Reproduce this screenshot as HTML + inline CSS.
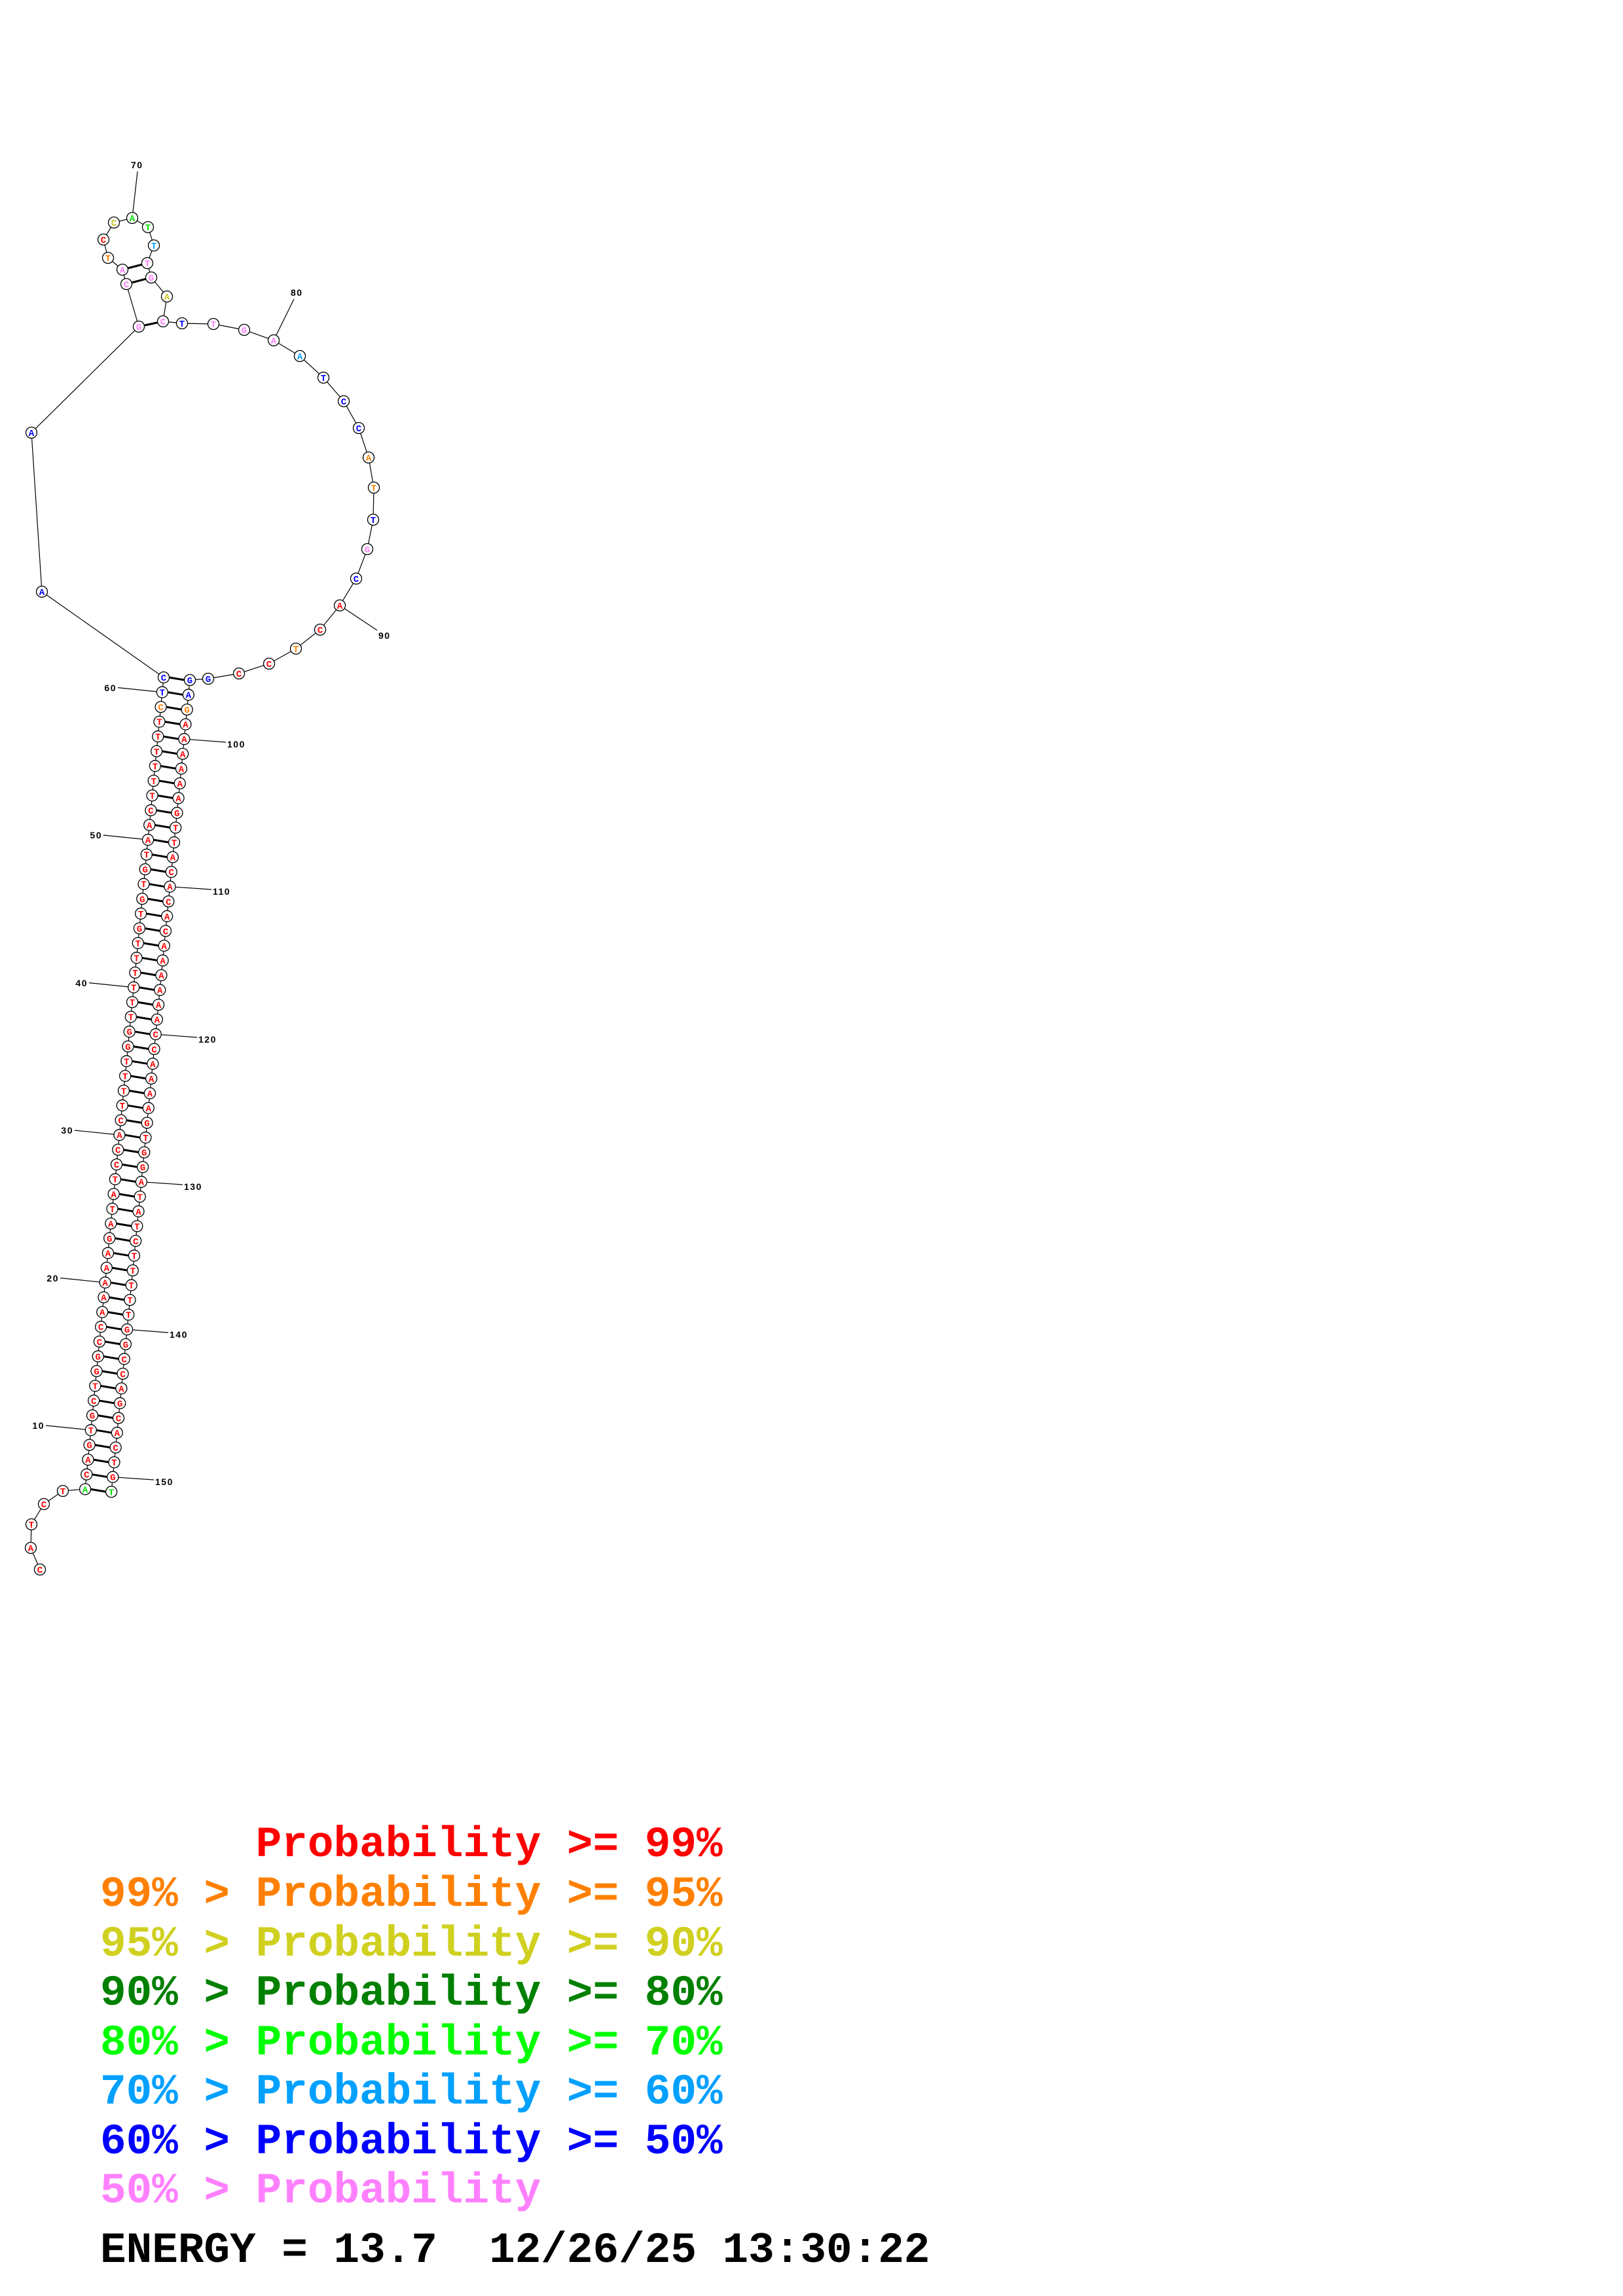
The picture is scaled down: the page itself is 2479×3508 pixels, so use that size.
<!DOCTYPE html>
<html><head><meta charset="utf-8"><style>
html,body{margin:0;padding:0;background:#fff;}
svg{display:block}
circle{fill:#fff;stroke:#000;stroke-width:1.3}
.n{font-family:"Liberation Mono",monospace;font-weight:bold;font-size:14px;text-anchor:middle}
.r{fill:#ff0000}.o{fill:#ff8000}.y{fill:#c8c820}.g{fill:#00e000}.c{fill:#00a0ff}.b{fill:#0000ff}.p{fill:#ff80ff}
.bd{stroke:#000;stroke-width:3}
.bb{stroke:#000;stroke-width:1.2;fill:none}
.lb{font-family:"Liberation Sans",sans-serif;font-weight:bold;font-size:14px;letter-spacing:1.5px;fill:#000}
.lg{font-family:"Liberation Mono",monospace;font-weight:bold;font-size:66px;white-space:pre}
</style></head><body>
<svg width="2479" height="3508" viewBox="0 0 2479 3508" xmlns="http://www.w3.org/2000/svg">
<line class="bb" x1="250" y1="1035" x2="130.1" y2="2275.25"/>
<line class="bb" x1="290" y1="1039" x2="170.1" y2="2279.25"/>
<polyline class="bb" points="130,2275 96,2278 67,2298 48,2329 47,2365 61,2398"/>
<polyline class="bb" points="250,1035 64,904 48,661 212,499 193,434 187,412 165,394 158,366 174,340 202,333 226,347 235,375 225,402 231,424 255,453 249,491 278,494 326,495 373,504 418,520 458,544 494,577 525,613 548,654 563,699 571,745 570,794 561,839 544,884 519,925 489,962 452,991 411,1014 365,1029 318,1037 290,1039"/>
<line class="bd" x1="212" y1="499" x2="249" y2="491"/>
<line class="bd" x1="193" y1="434" x2="231" y2="424"/>
<line class="bd" x1="187" y1="412" x2="225" y2="402"/>
<g class="bb">
<line x1="202" y1="333" x2="210" y2="262"/>
<line x1="418" y1="520" x2="449" y2="457"/>
<line x1="519" y1="925" x2="576" y2="963"/>
<line x1="247.8" y1="1057.6" x2="180" y2="1050.6"/>
<line x1="226" y1="1283" x2="158" y2="1276"/>
<line x1="204.2" y1="1508.6" x2="136" y2="1501.6"/>
<line x1="182.4" y1="1734" x2="114" y2="1727"/>
<line x1="160.6" y1="1959.6" x2="92" y2="1952.6"/>
<line x1="138.8" y1="2185" x2="70" y2="2178"/>
<line x1="281.3" y1="1129.2" x2="345" y2="1134"/>
<line x1="259.5" y1="1354.7" x2="323" y2="1359"/>
<line x1="237.7" y1="1580.2" x2="301" y2="1585"/>
<line x1="215.9" y1="1805.7" x2="279" y2="1810"/>
<line x1="194.1" y1="2031.2" x2="257" y2="2036"/>
<line x1="172.3" y1="2256.7" x2="235" y2="2261"/>
</g>
<text class="lb" x="200" y="257">70</text>
<text class="lb" x="444" y="452">80</text>
<text class="lb" x="578" y="976">90</text>
<g class="lb" text-anchor="end">
<text x="178" y="1056" text-anchor="end">60</text>
<text x="156" y="1281" text-anchor="end">50</text>
<text x="134" y="1507" text-anchor="end">40</text>
<text x="112" y="1732" text-anchor="end">30</text>
<text x="90" y="1958" text-anchor="end">20</text>
<text x="68" y="2183" text-anchor="end">10</text>
</g>
<text class="lb" x="347" y="1142">100</text>
<text class="lb" x="325" y="1367">110</text>
<text class="lb" x="303" y="1593">120</text>
<text class="lb" x="281" y="1818">130</text>
<text class="lb" x="259" y="2044">140</text>
<text class="lb" x="237" y="2269">150</text>

<g>
<circle cx="64" cy="904" r="8.5"/><text class="n b" x="64" y="909">A</text>
<circle cx="48" cy="661" r="8.5"/><text class="n b" x="48" y="666">A</text>
<circle cx="212" cy="499" r="8.5"/><text class="n p" x="212" y="504">G</text>
<circle cx="193" cy="434" r="8.5"/><text class="n p" x="193" y="439">C</text>
<circle cx="187" cy="412" r="8.5"/><text class="n p" x="187" y="417">A</text>
<circle cx="165" cy="394" r="8.5"/><text class="n o" x="165" y="399">T</text>
<circle cx="158" cy="366" r="8.5"/><text class="n r" x="158" y="371">C</text>
<circle cx="174" cy="340" r="8.5"/><text class="n y" x="174" y="345">C</text>
<circle cx="202" cy="333" r="8.5"/><text class="n g" x="202" y="338">A</text>
<circle cx="226" cy="347" r="8.5"/><text class="n g" x="226" y="352">T</text>
<circle cx="235" cy="375" r="8.5"/><text class="n c" x="235" y="380">T</text>
<circle cx="225" cy="402" r="8.5"/><text class="n p" x="225" y="407">T</text>
<circle cx="231" cy="424" r="8.5"/><text class="n p" x="231" y="429">G</text>
<circle cx="255" cy="453" r="8.5"/><text class="n y" x="255" y="458">A</text>
<circle cx="249" cy="491" r="8.5"/><text class="n p" x="249" y="496">C</text>
<circle cx="278" cy="494" r="8.5"/><text class="n b" x="278" y="499">T</text>
<circle cx="326" cy="495" r="8.5"/><text class="n p" x="326" y="500">T</text>
<circle cx="373" cy="504" r="8.5"/><text class="n p" x="373" y="509">G</text>
<circle cx="418" cy="520" r="8.5"/><text class="n p" x="418" y="525">A</text>
<circle cx="458" cy="544" r="8.5"/><text class="n c" x="458" y="549">A</text>
<circle cx="494" cy="577" r="8.5"/><text class="n b" x="494" y="582">T</text>
<circle cx="525" cy="613" r="8.5"/><text class="n b" x="525" y="618">C</text>
<circle cx="548" cy="654" r="8.5"/><text class="n b" x="548" y="659">C</text>
<circle cx="563" cy="699" r="8.5"/><text class="n o" x="563" y="704">A</text>
<circle cx="571" cy="745" r="8.5"/><text class="n o" x="571" y="750">T</text>
<circle cx="570" cy="794" r="8.5"/><text class="n b" x="570" y="799">T</text>
<circle cx="561" cy="839" r="8.5"/><text class="n p" x="561" y="844">G</text>
<circle cx="544" cy="884" r="8.5"/><text class="n b" x="544" y="889">C</text>
<circle cx="519" cy="925" r="8.5"/><text class="n r" x="519" y="930">A</text>
<circle cx="489" cy="962" r="8.5"/><text class="n r" x="489" y="967">C</text>
<circle cx="452" cy="991" r="8.5"/><text class="n o" x="452" y="996">T</text>
<circle cx="411" cy="1014" r="8.5"/><text class="n r" x="411" y="1019">C</text>
<circle cx="365" cy="1029" r="8.5"/><text class="n r" x="365" y="1034">C</text>
<circle cx="318" cy="1037" r="8.5"/><text class="n b" x="318" y="1042">G</text>
</g>
<circle cx="96" cy="2278" r="8.5"/><text class="n r" x="96" y="2283">T</text>
<circle cx="67" cy="2298" r="8.5"/><text class="n r" x="67" y="2303">C</text>
<circle cx="48" cy="2329" r="8.5"/><text class="n r" x="48" y="2334">T</text>
<circle cx="47" cy="2365" r="8.5"/><text class="n r" x="47" y="2370">A</text>
<circle cx="61" cy="2398" r="8.5"/><text class="n r" x="61" y="2403">C</text>

<g transform="translate(0,0)"><line class="bd" x1="258" y1="1035" x2="282" y2="1039"/><circle cx="250" cy="1035" r="8.5"/><circle cx="290" cy="1039" r="8.5"/><text class="n b" x="250" y="1040">C</text><text class="n b" x="290" y="1044">G</text></g>
<g transform="translate(-2.18,22.55)"><line class="bd" x1="258" y1="1035" x2="282" y2="1039"/><circle cx="250" cy="1035" r="8.5"/><circle cx="290" cy="1039" r="8.5"/><text class="n b" x="250" y="1040">T</text><text class="n b" x="290" y="1044">A</text></g>
<g transform="translate(-4.36,45.1)"><line class="bd" x1="258" y1="1035" x2="282" y2="1039"/><circle cx="250" cy="1035" r="8.5"/><circle cx="290" cy="1039" r="8.5"/><text class="n o" x="250" y="1040">C</text><text class="n o" x="290" y="1044">G</text></g>
<g transform="translate(-6.54,67.65)"><line class="bd" x1="258" y1="1035" x2="282" y2="1039"/><circle cx="250" cy="1035" r="8.5"/><circle cx="290" cy="1039" r="8.5"/><text class="n r" x="250" y="1040">T</text><text class="n r" x="290" y="1044">A</text></g>
<g transform="translate(-8.72,90.2)"><line class="bd" x1="258" y1="1035" x2="282" y2="1039"/><circle cx="250" cy="1035" r="8.5"/><circle cx="290" cy="1039" r="8.5"/><text class="n r" x="250" y="1040">T</text><text class="n r" x="290" y="1044">A</text></g>
<g transform="translate(-10.9,112.75)"><line class="bd" x1="258" y1="1035" x2="282" y2="1039"/><circle cx="250" cy="1035" r="8.5"/><circle cx="290" cy="1039" r="8.5"/><text class="n r" x="250" y="1040">T</text><text class="n r" x="290" y="1044">A</text></g>
<g transform="translate(-13.08,135.3)"><line class="bd" x1="258" y1="1035" x2="282" y2="1039"/><circle cx="250" cy="1035" r="8.5"/><circle cx="290" cy="1039" r="8.5"/><text class="n r" x="250" y="1040">T</text><text class="n r" x="290" y="1044">A</text></g>
<g transform="translate(-15.26,157.85)"><line class="bd" x1="258" y1="1035" x2="282" y2="1039"/><circle cx="250" cy="1035" r="8.5"/><circle cx="290" cy="1039" r="8.5"/><text class="n r" x="250" y="1040">T</text><text class="n r" x="290" y="1044">A</text></g>
<g transform="translate(-17.44,180.4)"><line class="bd" x1="258" y1="1035" x2="282" y2="1039"/><circle cx="250" cy="1035" r="8.5"/><circle cx="290" cy="1039" r="8.5"/><text class="n r" x="250" y="1040">T</text><text class="n r" x="290" y="1044">A</text></g>
<g transform="translate(-19.62,202.95)"><line class="bd" x1="258" y1="1035" x2="282" y2="1039"/><circle cx="250" cy="1035" r="8.5"/><circle cx="290" cy="1039" r="8.5"/><text class="n r" x="250" y="1040">C</text><text class="n r" x="290" y="1044">G</text></g>
<g transform="translate(-21.8,225.5)"><line class="bd" x1="258" y1="1035" x2="282" y2="1039"/><circle cx="250" cy="1035" r="8.5"/><circle cx="290" cy="1039" r="8.5"/><text class="n r" x="250" y="1040">A</text><text class="n r" x="290" y="1044">T</text></g>
<g transform="translate(-23.98,248.05)"><line class="bd" x1="258" y1="1035" x2="282" y2="1039"/><circle cx="250" cy="1035" r="8.5"/><circle cx="290" cy="1039" r="8.5"/><text class="n r" x="250" y="1040">A</text><text class="n r" x="290" y="1044">T</text></g>
<g transform="translate(-26.16,270.6)"><line class="bd" x1="258" y1="1035" x2="282" y2="1039"/><circle cx="250" cy="1035" r="8.5"/><circle cx="290" cy="1039" r="8.5"/><text class="n r" x="250" y="1040">T</text><text class="n r" x="290" y="1044">A</text></g>
<g transform="translate(-28.34,293.15)"><line class="bd" x1="258" y1="1035" x2="282" y2="1039"/><circle cx="250" cy="1035" r="8.5"/><circle cx="290" cy="1039" r="8.5"/><text class="n r" x="250" y="1040">G</text><text class="n r" x="290" y="1044">C</text></g>
<g transform="translate(-30.52,315.7)"><line class="bd" x1="258" y1="1035" x2="282" y2="1039"/><circle cx="250" cy="1035" r="8.5"/><circle cx="290" cy="1039" r="8.5"/><text class="n r" x="250" y="1040">T</text><text class="n r" x="290" y="1044">A</text></g>
<g transform="translate(-32.7,338.25)"><line class="bd" x1="258" y1="1035" x2="282" y2="1039"/><circle cx="250" cy="1035" r="8.5"/><circle cx="290" cy="1039" r="8.5"/><text class="n r" x="250" y="1040">G</text><text class="n r" x="290" y="1044">C</text></g>
<g transform="translate(-34.88,360.8)"><line class="bd" x1="258" y1="1035" x2="282" y2="1039"/><circle cx="250" cy="1035" r="8.5"/><circle cx="290" cy="1039" r="8.5"/><text class="n r" x="250" y="1040">T</text><text class="n r" x="290" y="1044">A</text></g>
<g transform="translate(-37.06,383.35)"><line class="bd" x1="258" y1="1035" x2="282" y2="1039"/><circle cx="250" cy="1035" r="8.5"/><circle cx="290" cy="1039" r="8.5"/><text class="n r" x="250" y="1040">G</text><text class="n r" x="290" y="1044">C</text></g>
<g transform="translate(-39.24,405.9)"><line class="bd" x1="258" y1="1035" x2="282" y2="1039"/><circle cx="250" cy="1035" r="8.5"/><circle cx="290" cy="1039" r="8.5"/><text class="n r" x="250" y="1040">T</text><text class="n r" x="290" y="1044">A</text></g>
<g transform="translate(-41.42,428.45)"><line class="bd" x1="258" y1="1035" x2="282" y2="1039"/><circle cx="250" cy="1035" r="8.5"/><circle cx="290" cy="1039" r="8.5"/><text class="n r" x="250" y="1040">T</text><text class="n r" x="290" y="1044">A</text></g>
<g transform="translate(-43.6,451)"><line class="bd" x1="258" y1="1035" x2="282" y2="1039"/><circle cx="250" cy="1035" r="8.5"/><circle cx="290" cy="1039" r="8.5"/><text class="n r" x="250" y="1040">T</text><text class="n r" x="290" y="1044">A</text></g>
<g transform="translate(-45.78,473.55)"><line class="bd" x1="258" y1="1035" x2="282" y2="1039"/><circle cx="250" cy="1035" r="8.5"/><circle cx="290" cy="1039" r="8.5"/><text class="n r" x="250" y="1040">T</text><text class="n r" x="290" y="1044">A</text></g>
<g transform="translate(-47.96,496.1)"><line class="bd" x1="258" y1="1035" x2="282" y2="1039"/><circle cx="250" cy="1035" r="8.5"/><circle cx="290" cy="1039" r="8.5"/><text class="n r" x="250" y="1040">T</text><text class="n r" x="290" y="1044">A</text></g>
<g transform="translate(-50.14,518.65)"><line class="bd" x1="258" y1="1035" x2="282" y2="1039"/><circle cx="250" cy="1035" r="8.5"/><circle cx="290" cy="1039" r="8.5"/><text class="n r" x="250" y="1040">T</text><text class="n r" x="290" y="1044">A</text></g>
<g transform="translate(-52.32,541.2)"><line class="bd" x1="258" y1="1035" x2="282" y2="1039"/><circle cx="250" cy="1035" r="8.5"/><circle cx="290" cy="1039" r="8.5"/><text class="n r" x="250" y="1040">G</text><text class="n r" x="290" y="1044">C</text></g>
<g transform="translate(-54.5,563.75)"><line class="bd" x1="258" y1="1035" x2="282" y2="1039"/><circle cx="250" cy="1035" r="8.5"/><circle cx="290" cy="1039" r="8.5"/><text class="n r" x="250" y="1040">G</text><text class="n r" x="290" y="1044">C</text></g>
<g transform="translate(-56.68,586.3)"><line class="bd" x1="258" y1="1035" x2="282" y2="1039"/><circle cx="250" cy="1035" r="8.5"/><circle cx="290" cy="1039" r="8.5"/><text class="n r" x="250" y="1040">T</text><text class="n r" x="290" y="1044">A</text></g>
<g transform="translate(-58.86,608.85)"><line class="bd" x1="258" y1="1035" x2="282" y2="1039"/><circle cx="250" cy="1035" r="8.5"/><circle cx="290" cy="1039" r="8.5"/><text class="n r" x="250" y="1040">T</text><text class="n r" x="290" y="1044">A</text></g>
<g transform="translate(-61.04,631.4)"><line class="bd" x1="258" y1="1035" x2="282" y2="1039"/><circle cx="250" cy="1035" r="8.5"/><circle cx="290" cy="1039" r="8.5"/><text class="n r" x="250" y="1040">T</text><text class="n r" x="290" y="1044">A</text></g>
<g transform="translate(-63.22,653.95)"><line class="bd" x1="258" y1="1035" x2="282" y2="1039"/><circle cx="250" cy="1035" r="8.5"/><circle cx="290" cy="1039" r="8.5"/><text class="n r" x="250" y="1040">T</text><text class="n r" x="290" y="1044">A</text></g>
<g transform="translate(-65.4,676.5)"><line class="bd" x1="258" y1="1035" x2="282" y2="1039"/><circle cx="250" cy="1035" r="8.5"/><circle cx="290" cy="1039" r="8.5"/><text class="n r" x="250" y="1040">C</text><text class="n r" x="290" y="1044">G</text></g>
<g transform="translate(-67.58,699.05)"><line class="bd" x1="258" y1="1035" x2="282" y2="1039"/><circle cx="250" cy="1035" r="8.5"/><circle cx="290" cy="1039" r="8.5"/><text class="n r" x="250" y="1040">A</text><text class="n r" x="290" y="1044">T</text></g>
<g transform="translate(-69.76,721.6)"><line class="bd" x1="258" y1="1035" x2="282" y2="1039"/><circle cx="250" cy="1035" r="8.5"/><circle cx="290" cy="1039" r="8.5"/><text class="n r" x="250" y="1040">C</text><text class="n r" x="290" y="1044">G</text></g>
<g transform="translate(-71.94,744.15)"><line class="bd" x1="258" y1="1035" x2="282" y2="1039"/><circle cx="250" cy="1035" r="8.5"/><circle cx="290" cy="1039" r="8.5"/><text class="n r" x="250" y="1040">C</text><text class="n r" x="290" y="1044">G</text></g>
<g transform="translate(-74.12,766.7)"><line class="bd" x1="258" y1="1035" x2="282" y2="1039"/><circle cx="250" cy="1035" r="8.5"/><circle cx="290" cy="1039" r="8.5"/><text class="n r" x="250" y="1040">T</text><text class="n r" x="290" y="1044">A</text></g>
<g transform="translate(-76.3,789.25)"><line class="bd" x1="258" y1="1035" x2="282" y2="1039"/><circle cx="250" cy="1035" r="8.5"/><circle cx="290" cy="1039" r="8.5"/><text class="n r" x="250" y="1040">A</text><text class="n r" x="290" y="1044">T</text></g>
<g transform="translate(-78.48,811.8)"><line class="bd" x1="258" y1="1035" x2="282" y2="1039"/><circle cx="250" cy="1035" r="8.5"/><circle cx="290" cy="1039" r="8.5"/><text class="n r" x="250" y="1040">T</text><text class="n r" x="290" y="1044">A</text></g>
<g transform="translate(-80.66,834.35)"><line class="bd" x1="258" y1="1035" x2="282" y2="1039"/><circle cx="250" cy="1035" r="8.5"/><circle cx="290" cy="1039" r="8.5"/><text class="n r" x="250" y="1040">A</text><text class="n r" x="290" y="1044">T</text></g>
<g transform="translate(-82.84,856.9)"><line class="bd" x1="258" y1="1035" x2="282" y2="1039"/><circle cx="250" cy="1035" r="8.5"/><circle cx="290" cy="1039" r="8.5"/><text class="n r" x="250" y="1040">G</text><text class="n r" x="290" y="1044">C</text></g>
<g transform="translate(-85.02,879.45)"><line class="bd" x1="258" y1="1035" x2="282" y2="1039"/><circle cx="250" cy="1035" r="8.5"/><circle cx="290" cy="1039" r="8.5"/><text class="n r" x="250" y="1040">A</text><text class="n r" x="290" y="1044">T</text></g>
<g transform="translate(-87.2,902)"><line class="bd" x1="258" y1="1035" x2="282" y2="1039"/><circle cx="250" cy="1035" r="8.5"/><circle cx="290" cy="1039" r="8.5"/><text class="n r" x="250" y="1040">A</text><text class="n r" x="290" y="1044">T</text></g>
<g transform="translate(-89.38,924.55)"><line class="bd" x1="258" y1="1035" x2="282" y2="1039"/><circle cx="250" cy="1035" r="8.5"/><circle cx="290" cy="1039" r="8.5"/><text class="n r" x="250" y="1040">A</text><text class="n r" x="290" y="1044">T</text></g>
<g transform="translate(-91.56,947.1)"><line class="bd" x1="258" y1="1035" x2="282" y2="1039"/><circle cx="250" cy="1035" r="8.5"/><circle cx="290" cy="1039" r="8.5"/><text class="n r" x="250" y="1040">A</text><text class="n r" x="290" y="1044">T</text></g>
<g transform="translate(-93.74,969.65)"><line class="bd" x1="258" y1="1035" x2="282" y2="1039"/><circle cx="250" cy="1035" r="8.5"/><circle cx="290" cy="1039" r="8.5"/><text class="n r" x="250" y="1040">A</text><text class="n r" x="290" y="1044">T</text></g>
<g transform="translate(-95.92,992.2)"><line class="bd" x1="258" y1="1035" x2="282" y2="1039"/><circle cx="250" cy="1035" r="8.5"/><circle cx="290" cy="1039" r="8.5"/><text class="n r" x="250" y="1040">C</text><text class="n r" x="290" y="1044">G</text></g>
<g transform="translate(-98.1,1014.75)"><line class="bd" x1="258" y1="1035" x2="282" y2="1039"/><circle cx="250" cy="1035" r="8.5"/><circle cx="290" cy="1039" r="8.5"/><text class="n r" x="250" y="1040">C</text><text class="n r" x="290" y="1044">G</text></g>
<g transform="translate(-100.28,1037.3)"><line class="bd" x1="258" y1="1035" x2="282" y2="1039"/><circle cx="250" cy="1035" r="8.5"/><circle cx="290" cy="1039" r="8.5"/><text class="n r" x="250" y="1040">G</text><text class="n r" x="290" y="1044">C</text></g>
<g transform="translate(-102.46,1059.85)"><line class="bd" x1="258" y1="1035" x2="282" y2="1039"/><circle cx="250" cy="1035" r="8.5"/><circle cx="290" cy="1039" r="8.5"/><text class="n r" x="250" y="1040">G</text><text class="n r" x="290" y="1044">C</text></g>
<g transform="translate(-104.64,1082.4)"><line class="bd" x1="258" y1="1035" x2="282" y2="1039"/><circle cx="250" cy="1035" r="8.5"/><circle cx="290" cy="1039" r="8.5"/><text class="n r" x="250" y="1040">T</text><text class="n r" x="290" y="1044">A</text></g>
<g transform="translate(-106.82,1104.95)"><line class="bd" x1="258" y1="1035" x2="282" y2="1039"/><circle cx="250" cy="1035" r="8.5"/><circle cx="290" cy="1039" r="8.5"/><text class="n r" x="250" y="1040">C</text><text class="n r" x="290" y="1044">G</text></g>
<g transform="translate(-109,1127.5)"><line class="bd" x1="258" y1="1035" x2="282" y2="1039"/><circle cx="250" cy="1035" r="8.5"/><circle cx="290" cy="1039" r="8.5"/><text class="n r" x="250" y="1040">G</text><text class="n r" x="290" y="1044">C</text></g>
<g transform="translate(-111.18,1150.05)"><line class="bd" x1="258" y1="1035" x2="282" y2="1039"/><circle cx="250" cy="1035" r="8.5"/><circle cx="290" cy="1039" r="8.5"/><text class="n r" x="250" y="1040">T</text><text class="n r" x="290" y="1044">A</text></g>
<g transform="translate(-113.36,1172.6)"><line class="bd" x1="258" y1="1035" x2="282" y2="1039"/><circle cx="250" cy="1035" r="8.5"/><circle cx="290" cy="1039" r="8.5"/><text class="n r" x="250" y="1040">G</text><text class="n r" x="290" y="1044">C</text></g>
<g transform="translate(-115.54,1195.15)"><line class="bd" x1="258" y1="1035" x2="282" y2="1039"/><circle cx="250" cy="1035" r="8.5"/><circle cx="290" cy="1039" r="8.5"/><text class="n r" x="250" y="1040">A</text><text class="n r" x="290" y="1044">T</text></g>
<g transform="translate(-117.72,1217.7)"><line class="bd" x1="258" y1="1035" x2="282" y2="1039"/><circle cx="250" cy="1035" r="8.5"/><circle cx="290" cy="1039" r="8.5"/><text class="n r" x="250" y="1040">C</text><text class="n r" x="290" y="1044">G</text></g>
<g transform="translate(-119.9,1240.25)"><line class="bd" x1="258" y1="1035" x2="282" y2="1039"/><circle cx="250" cy="1035" r="8.5"/><circle cx="290" cy="1039" r="8.5"/><text class="n g" x="250" y="1040">A</text><text class="n g" x="290" y="1044">T</text></g>

<text class="lg" x="153" y="2836" fill="#ff0000">      Probability &gt;= 99%</text>
<text class="lg" x="153" y="2912" fill="#ff8000">99% &gt; Probability &gt;= 95%</text>
<text class="lg" x="153" y="2988" fill="#d0d020">95% &gt; Probability &gt;= 90%</text>
<text class="lg" x="153" y="3063" fill="#008000">90% &gt; Probability &gt;= 80%</text>
<text class="lg" x="153" y="3139" fill="#00ff00">80% &gt; Probability &gt;= 70%</text>
<text class="lg" x="153" y="3214" fill="#00a0ff">70% &gt; Probability &gt;= 60%</text>
<text class="lg" x="153" y="3290" fill="#0000ff">60% &gt; Probability &gt;= 50%</text>
<text class="lg" x="153" y="3365" fill="#ff80ff">50% &gt; Probability</text>
<text class="lg" x="153" y="3456" fill="#000">ENERGY = 13.7  12/26/25 13:30:22</text>
</svg>
</body></html>
